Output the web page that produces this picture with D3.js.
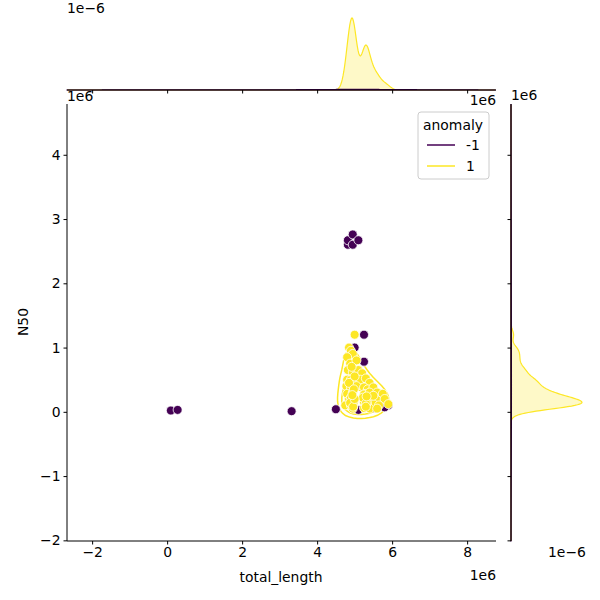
<!DOCTYPE html>
<html>
<head>
<meta charset="utf-8">
<script src="https://cdn.jsdelivr.net/npm/d3@7"></script>
<style>
body { margin: 0; background: white; }
text { font-family: "DejaVu Sans", sans-serif; }
</style>
</head>
<body>
<div class="svg-wrap"></div>
<script>
// values in units of 1e6
let outliers = [[0.1,0.02],[0.28,0.03],[3.32,0.01],[4.5,0.04],[4.82,2.6],[4.82,2.67],[4.95,2.76],
  [4.95,2.6],[5.1,2.67],[5.25,1.2],[5.25,0.78],[5.0,1.0],[5.9,0.1],[5.1,0.03],[5.8,0.07],[5.55,0.06]];
let inliers = [[4.85,1.0],[4.9,0.95],[4.95,0.9],[5.0,1.2],[4.8,0.85],[4.88,0.75],[5.05,0.8],[4.82,0.65],
  [4.95,0.62],[5.1,0.65],[5.2,0.6],[4.8,0.5],[4.9,0.5],[5.0,0.48],[5.15,0.5],[5.3,0.52],[5.4,0.45],
  [4.78,0.4],[4.9,0.38],[5.05,0.4],[5.25,0.38],[5.35,0.35],[5.5,0.38],[4.8,0.28],[4.95,0.3],[5.3,0.28],
  [5.25,0.27],[5.4,0.3],[5.6,0.3],[5.75,0.28],[4.85,0.18],[4.95,0.2],[5.3,0.18],[5.3,0.17],[5.45,0.2],
  [5.6,0.18],[5.8,0.2],[4.75,0.1],[4.9,0.1],[4.97,0.12],[5.28,0.1],[5.35,0.1],[5.5,0.12],[5.65,0.1],
  [5.9,0.12],[4.95,0.05],[5.25,0.06],[5.4,0.05],[5.6,0.05],[4.95,0.15],[4.92,0.14],[5.25,0.15],[5.33,0.14],
  [4.9,0.22],[5.22,0.22],[5.5,0.25],[4.92,0.7],[5.0,0.55],[4.85,0.45],[4.98,0.35],[4.93,0.12],
  [4.97,0.09],[5.3,0.13],[5.3,0.08],[4.98,0.16],[4.88,0.14],[4.96,0.08],[5.0,0.2],[4.94,0.26],[5.32,0.24]];
let xTicks = [-2, 0, 2, 4, 6, 8];
let yTicks = [-2, -1, 0, 1, 2, 3, 4];
let hues = ["-1", "1"];
let colors = ["#440154", "#fde725"];
let fs = "13.9px";

let svg = d3.select(".svg-wrap").append("svg").attr("width", 600).attr("height", 600);

let x = d3.scaleLinear().domain([-2.67, 8.77]).range([67, 496]);
let y = d3.scaleLinear().domain([-2.01, 4.79]).range([541, 104]);
let fmt = d => d < 0 ? "\u2212" + (-d) : d;

// joint kde contours for inliers (under the points)
let dens = d3.contourDensity().x(d => x(d[0])).y(d => y(d[1])).size([600, 600]).bandwidth(6).thresholds(6)(inliers);
svg.append("g").selectAll("path").data(dens.slice(0, 4)).enter().append("path")
  .attr("d", d3.geoPath()).attr("fill", "none").attr("stroke", colors[1]).attr("stroke-width", 1.5);

// scatter
let pts = outliers.map(d => ({ x: d[0], y: d[1], h: 0 })).concat(inliers.map(d => ({ x: d[0], y: d[1], h: 1 })));
svg.selectAll(".dot").data(pts).enter().append("circle")
  .attr("cx", d => x(d.x)).attr("cy", d => y(d.y)).attr("r", 4.5)
  .attr("fill", d => colors[d.h]).attr("stroke", "white").attr("stroke-width", 0.8);

// main axes
svg.append("g").attr("transform", "translate(0,541)")
  .call(d3.axisBottom(x).tickValues(xTicks).tickSize(3.5).tickFormat(fmt))
  .call(g => g.select(".domain").attr("d", "M67,0H496"));
svg.append("g").attr("transform", "translate(67,0)")
  .call(d3.axisLeft(y).tickValues(yTicks).tickSize(3.5).tickFormat(fmt))
  .call(g => g.select(".domain").attr("d", "M0,104V541"));
svg.selectAll(".tick text").style("font-size", fs).style("font-family", "DejaVu Sans");

svg.append("text").attr("x", 281).attr("y", 582).attr("text-anchor", "middle").style("font-size", fs).text("total_length");
svg.append("text").attr("transform", "translate(28,322) rotate(-90)").attr("text-anchor", "middle").style("font-size", fs).text("N50");
svg.append("text").attr("x", 496).attr("y", 580).attr("text-anchor", "end").style("font-size", fs).text("1e6");
svg.append("text").attr("x", 67).attr("y", 101).style("font-size", fs).text("1e6");

// legend
let lg = svg.append("g").attr("transform", "translate(418,112)");
lg.append("rect").attr("width", 71).attr("height", 67).attr("rx", 3).attr("fill", "white").attr("fill-opacity", 0.8).attr("stroke", "#ccc");
lg.append("text").attr("x", 35).attr("y", 18).attr("text-anchor", "middle").style("font-size", fs).text("anomaly");
hues.forEach((h, i) => {
  lg.append("line").attr("x1", 9).attr("x2", 37).attr("y1", 33 + i * 21).attr("y2", 33 + i * 21).attr("stroke", colors[i]).attr("stroke-width", 1.5);
  lg.append("text").attr("x", 48).attr("y", 38 + i * 21).style("font-size", fs).text(h);
});

// marginal kde
function kde(vals, grid, bw) {
  return grid.map(g => [g, d3.sum(vals, v => Math.exp(-0.5 * ((g - v) / bw) ** 2)) / (bw * Math.sqrt(2 * Math.PI))]);
}
let n = pts.length;
let groups = [outliers, inliers];
let bwX = [1.2, 0.1], bwY = [1.0, 0.07];

// top marginal
let gx = d3.range(-2.67, 8.77, 0.02);
let topD = groups.map((g, i) => kde(g.map(d => d[0]), gx, bwX[i]).map(p => [p[0], p[1] * g.length / n]));
let topMax = d3.max(topD[1], p => p[1]);
let ty = d3.scaleLinear().domain([0, topMax]).range([90, 18]);
let areaT = d3.area().x(p => x(p[0])).y0(90).y1(p => ty(p[1]));
[1, 0].forEach(i => {
  svg.append("path").attr("d", areaT(topD[i])).attr("fill", colors[i]).attr("fill-opacity", 0.25)
    .attr("stroke", colors[i]).attr("stroke-width", 1.2);
});
svg.append("g").attr("transform", "translate(0,90)")
  .call(d3.axisBottom(x).tickValues(xTicks).tickSize(3.5).tickFormat(""))
  .call(g => g.select(".domain").attr("d", "M67,0H496"));
svg.append("text").attr("x", 67).attr("y", 13).style("font-size", fs).text("1e\u22126");
svg.append("text").attr("x", 496).attr("y", 105).attr("text-anchor", "end").style("font-size", fs).text("1e6");

// right marginal
let gy = d3.range(-2.01, 4.79, 0.01);
let rightD = groups.map((g, i) => kde(g.map(d => d[1]), gy, bwY[i]).map(p => [p[0], p[1] * g.length / n]));
let rightMax = d3.max(rightD[1], p => p[1]);
let rx = d3.scaleLinear().domain([0, rightMax]).range([511, 582]);
let areaR = d3.area().y(p => y(p[0])).x0(511).x1(p => rx(p[1]));
[1, 0].forEach(i => {
  svg.append("path").attr("d", areaR(rightD[i])).attr("fill", colors[i]).attr("fill-opacity", 0.25)
    .attr("stroke", colors[i]).attr("stroke-width", 1.2);
});
svg.append("g").attr("transform", "translate(511,0)")
  .call(d3.axisLeft(y).tickValues(yTicks).tickSize(3.5).tickFormat(""))
  .call(g => g.select(".domain").attr("d", "M0,104V541"));
svg.append("text").attr("x", 511).attr("y", 100).style("font-size", fs).text("1e6");
svg.append("text").attr("x", 548).attr("y", 557).style("font-size", fs).text("1e\u22126");
</script>
</body>
</html>
